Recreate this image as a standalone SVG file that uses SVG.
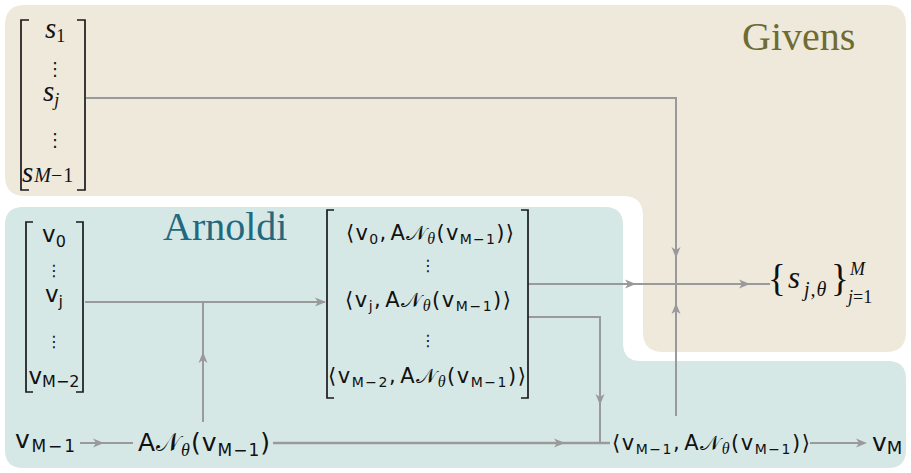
<svg xmlns="http://www.w3.org/2000/svg" xmlns:xlink="http://www.w3.org/1999/xlink" width="911" height="473" viewBox="0 0 911 473">
<style>
.br{fill:none;stroke:#1a1a1a;stroke-width:1.7}
.cn{fill:none;stroke:#9a9a9a;stroke-width:2}
.cnb{fill:none;stroke:#9a9a9a;stroke-width:2.6}
.sf{font-family:"DejaVu Sans",sans-serif;fill:#111}
.it{font-family:"Liberation Serif",serif;font-style:italic;fill:#111}
.rm{font-family:"Liberation Serif",serif;font-style:normal;fill:#111}
.dots{font-family:"DejaVu Sans",sans-serif;fill:#111;text-anchor:middle}
</style>
<defs>
<path id="ah" d="M0,0 L-11,-4.5 L-8,0 L-11,4.5 Z" fill="#9a9a9a"/>
</defs>
<g id="regions">
<path id="givens-bg" d="M25,5 H886 Q906,5 906,25 V332 Q906,352 886,352 H663 Q643,352 643,332 V216 Q643,196 623,196 H25 Q5,196 5,176 V25 Q5,5 25,5 Z" fill="#efe9dc"/>
<path id="arnoldi-bg" d="M23,207 H605 Q623,207 623,225 V343 Q623,361 641,361 H888 Q906,361 906,379 V450 Q906,468 888,468 H23 Q5,468 5,450 V225 Q5,207 23,207 Z" fill="#d6e8e6"/>
<text x="742" y="50" font-family="Liberation Serif, serif" font-size="40" fill="#6e6c30">Givens</text>
<text x="163" y="240" font-family="Liberation Serif, serif" font-size="40" fill="#22687f">Arnoldi</text>
</g>
<g id="connectors">
<path class="cn" d="M86,98 H676 V284"/>
<use xlink:href="#ah" transform="translate(676,258) rotate(90)"/>
<path class="cn" d="M528,284 H770"/>
<use xlink:href="#ah" transform="translate(636,284)"/>
<use xlink:href="#ah" transform="translate(750,284)"/>
<path class="cn" d="M676,416 V284"/>
<use xlink:href="#ah" transform="translate(676,303) rotate(-90)"/>
<path class="cn" d="M528,317 H600 V443"/>
<use xlink:href="#ah" transform="translate(600,405) rotate(90)"/>
<path class="cn" d="M85,302 H325"/>
<use xlink:href="#ah" transform="translate(326,302)"/>
<path class="cn" d="M203,422 V302"/>
<use xlink:href="#ah" transform="translate(203,352) rotate(-90)"/>
<path class="cn" d="M80,443 H133"/>
<use xlink:href="#ah" transform="translate(104,443)"/>
<path class="cnb" d="M273,443 H610"/>
<use xlink:href="#ah" transform="translate(565,443)"/>
<path class="cn" d="M810,443 H864"/>
<use xlink:href="#ah" transform="translate(867,443)"/>
</g>
<g id="s-vector">
<path class="br" d="M29,20 H21 V190 H29"/>
<path class="br" d="M77,20 H85 V190 H77"/>
<text class="it" x="45" y="38" font-size="29">s<tspan class="rm" font-size="18" dy="4">1</tspan></text>
<text class="dots" x="55" y="75" font-size="18">⋮</text>
<text class="it" x="43" y="101" font-size="29">s<tspan font-size="18" dy="5">j</tspan></text>
<text class="dots" x="55" y="146" font-size="18">⋮</text>
<text class="it" x="22" y="182" font-size="29">s<tspan font-size="20" dx="1">M</tspan><tspan class="rm" font-size="20" letter-spacing="1">−1</tspan></text>
</g>
<g id="v-vector">
<path class="br" d="M33,222 H26 V392 H33"/>
<path class="br" d="M76,222 H83 V392 H76"/>
<text class="sf" x="54" y="242" font-size="23" text-anchor="middle">v<tspan font-size="16" dy="5">0</tspan></text>
<text class="dots" x="54" y="276" font-size="16">⋮</text>
<text class="sf" x="54" y="302" font-size="23" text-anchor="middle">v<tspan font-size="16" dy="5">j</tspan></text>
<text class="dots" x="54" y="347" font-size="16">⋮</text>
<text class="sf" x="54" y="384" font-size="23" text-anchor="middle">v<tspan font-size="16" dy="3">M−2</tspan></text>
</g>
<g id="inner-products">
<path class="br" d="M334,210 H327 V398 H334"/>
<path class="br" d="M521,210 H528 V398 H521"/>
<text class="sf" x="430" y="240" font-size="21" text-anchor="middle" textLength="168" lengthAdjust="spacing">⟨v<tspan font-size="14" dy="4">0</tspan><tspan dy="-4">,</tspan><tspan dx="3">A𝒩</tspan><tspan class="it" font-size="16" dy="4">θ</tspan><tspan dy="-4">(v</tspan><tspan font-size="14" dy="4">M−1</tspan><tspan dy="-4">)⟩</tspan></text>
<text class="dots" x="428" y="271" font-size="16">⋮</text>
<text class="sf" x="428" y="307" font-size="21" text-anchor="middle" textLength="166" lengthAdjust="spacing">⟨v<tspan font-size="14" dy="4">j</tspan><tspan dy="-4">,</tspan><tspan dx="3">A𝒩</tspan><tspan class="it" font-size="16" dy="4">θ</tspan><tspan dy="-4">(v</tspan><tspan font-size="14" dy="4">M−1</tspan><tspan dy="-4">)⟩</tspan></text>
<text class="dots" x="428" y="346" font-size="16">⋮</text>
<text class="sf" x="427" y="383" font-size="21" text-anchor="middle" textLength="198" lengthAdjust="spacing">⟨v<tspan font-size="14" dy="4">M−2</tspan><tspan dy="-4">,</tspan><tspan dx="3">A𝒩</tspan><tspan class="it" font-size="16" dy="4">θ</tspan><tspan dy="-4">(v</tspan><tspan font-size="14" dy="4">M−1</tspan><tspan dy="-4">)⟩</tspan></text>
</g>
<g id="v-prev">
<text class="sf" x="15" y="448" font-size="25" textLength="60" lengthAdjust="spacing">v<tspan font-size="17" dy="4">M−1</tspan></text>
</g>
<g id="apply-net">
<text class="sf" x="138" y="451" font-size="25" textLength="132" lengthAdjust="spacing">A𝒩<tspan class="it" font-size="18" dy="5">θ</tspan><tspan dy="-5">(v</tspan><tspan font-size="17" dy="5">M−1</tspan><tspan dy="-5">)</tspan></text>
</g>
<g id="inner-last">
<text class="sf" x="612" y="450" font-size="21" textLength="198" lengthAdjust="spacing">⟨v<tspan font-size="14" dy="4">M−1</tspan><tspan dy="-4">,</tspan><tspan dx="3">A𝒩</tspan><tspan class="it" font-size="16" dy="4">θ</tspan><tspan dy="-4">(v</tspan><tspan font-size="14" dy="4">M−1</tspan><tspan dy="-4">)⟩</tspan></text>
</g>
<g id="v-next">
<text class="sf" x="872" y="451" font-size="25">v<tspan font-size="18" dy="3">M</tspan></text>
</g>
<g id="givens-result">
<text class="rm" x="768" y="291" font-size="37">{</text>
<text class="it" x="788" y="288" font-size="31">s</text>
<text class="it" x="804" y="296" font-size="20" letter-spacing="1">j,θ</text>
<text class="rm" x="831" y="291" font-size="37">}</text>
<text class="it" x="850" y="275" font-size="18">M</text>
<text class="it" x="848" y="303" font-size="18">j<tspan class="rm">=1</tspan></text>
</g>
</svg>
